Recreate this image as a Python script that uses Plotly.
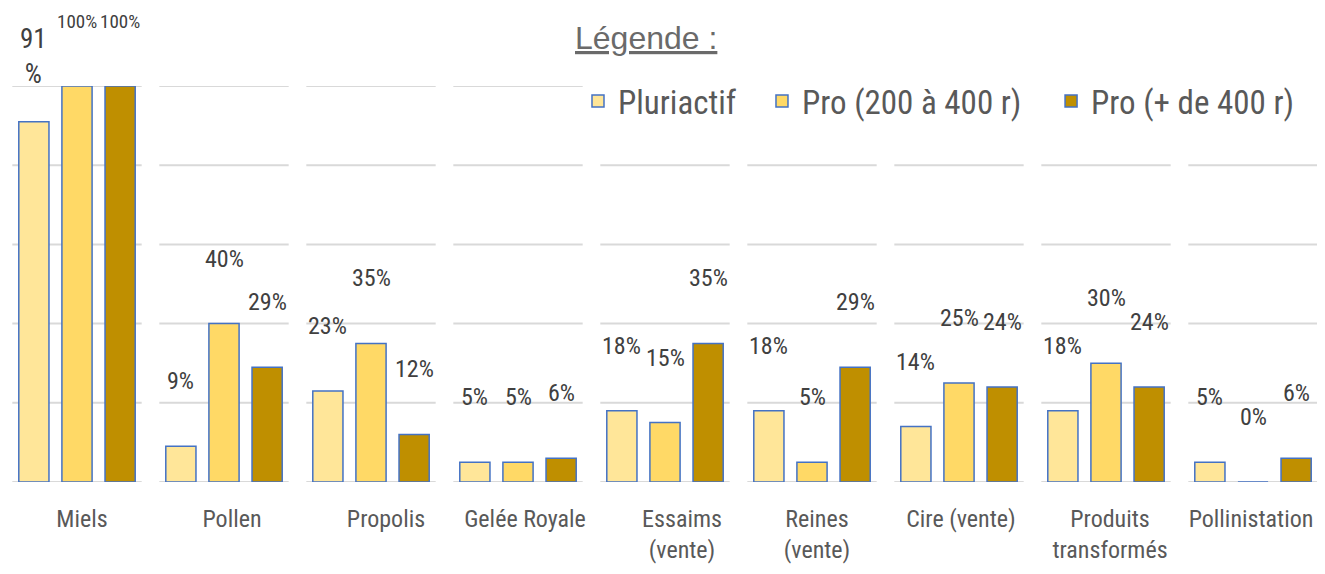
import plotly.graph_objects as go

# données
categories = ["Miels", "Pollen", "Propolis", "Gelée Royale", "Essaims<br>(vente)",
              "Reines<br>(vente)", "Cire (vente)", "Produits<br>transformés", "Pollinistation"]
pluriactif = [91, 9, 23, 5, 18, 18, 14, 18, 5]
pro_200_400 = [100, 40, 35, 5, 15, 5, 25, 30, 0]
pro_400_plus = [100, 29, 12, 6, 35, 29, 24, 24, 6]
series_names = ["Pluriactif", "Pro (200 à 400 r)", "Pro (+ de 400 r)"]
series_values = [pluriactif, pro_200_400, pro_400_plus]
colors = ["#FFE699", "#FFD966", "#BF8F00"]
grid_values = [0, 20, 40, 60, 80, 100]

NARROW = "Liberation Sans Narrow, Roboto Condensed, DejaVu Sans Condensed, Arial Narrow, sans-serif"
TXT = "#404040"
GREY = "#595959"

# mise en page (la page html a une marge de 8 px)
CAT_PX = 147.0
W, H = 1317, 566
x0 = -(77 - 8) / CAT_PX
x1 = x0 + W / CAT_PX
label_nudge_px = [5, 8, 15, 7, 17, 5, 2, 4, -2]
legend_x = [0.4328, 0.5725, 0.7920]

x_idx = list(range(len(categories)))
fig = go.Figure()
for k, (name, vals, col) in enumerate(zip(series_names, series_values, colors)):
    fig.add_trace(go.Bar(
        x=x_idx, y=vals, name=name,
        marker=dict(color=col, line=dict(color="#4472C4", width=1.5)),
        legend="legend" if k == 0 else f"legend{k + 1}",
    ))

bargap = 0.12
slot = (1 - bargap) / 3

# étiquettes de données (au-dessus des barres)
annotations = []
for j, vals in enumerate(series_values):
    for i, v in enumerate(vals):
        txt = f"{v}%"
        size = 24
        if i == 0 and v == 100:
            size = 19
        if i == 0 and j == 0:
            txt = f"{v}<br>%"
            size = 27
        annotations.append(dict(
            x=i + (j - 1) * slot, y=v, xref="x", yref="y", text=txt,
            showarrow=False, yanchor="middle", yshift=65,
            font=dict(family=NARROW, size=size, color=TXT),
        ))

annotations.append(dict(
    x=0.429, y=1.121, xref="paper", yref="paper", xanchor="left", yanchor="middle",
    text="<u>Légende :</u>", showarrow=False,
    font=dict(family="Liberation Sans, Arial, sans-serif", size=32, color="#6a6a6a"),
))

# quadrillage par groupe
shapes = []
for i in x_idx:
    for g in grid_values:
        if g == 100 and i >= 4:
            continue
        shapes.append(dict(
            type="line", xref="x", yref="y", x0=i - 0.44, x1=i + 0.44, y0=g, y1=g,
            line=dict(color="#D9D9D9", width=2), layer="below",
        ))

leg_common = dict(
    orientation="h", y=0.962, xanchor="left", yanchor="middle",
    font=dict(family=NARROW, size=33, color=GREY), bgcolor="rgba(0,0,0,0)",
)
fig.update_layout(
    width=W, height=H,
    margin=dict(l=0, r=0, t=78, b=92),
    plot_bgcolor="white", paper_bgcolor="white",
    barmode="group", bargap=bargap, bargroupgap=0.30,
    annotations=annotations, shapes=shapes,
    showlegend=True,
    legend=dict(x=legend_x[0], **leg_common),
    legend2=dict(x=legend_x[1], **leg_common),
    legend3=dict(x=legend_x[2], **leg_common),
)
fig.update_xaxes(
    range=[x0, x1], tickvals=[i + d / CAT_PX for i, d in zip(x_idx, label_nudge_px)],
    ticktext=categories,
    showgrid=False, zeroline=False, showline=False, ticks="",
    ticklabelstandoff=20,
    tickfont=dict(family=NARROW, size=24, color=GREY),
)
fig.update_yaxes(range=[0, 100], showgrid=False, zeroline=False, showticklabels=False)

fig.write_html("out.html")
